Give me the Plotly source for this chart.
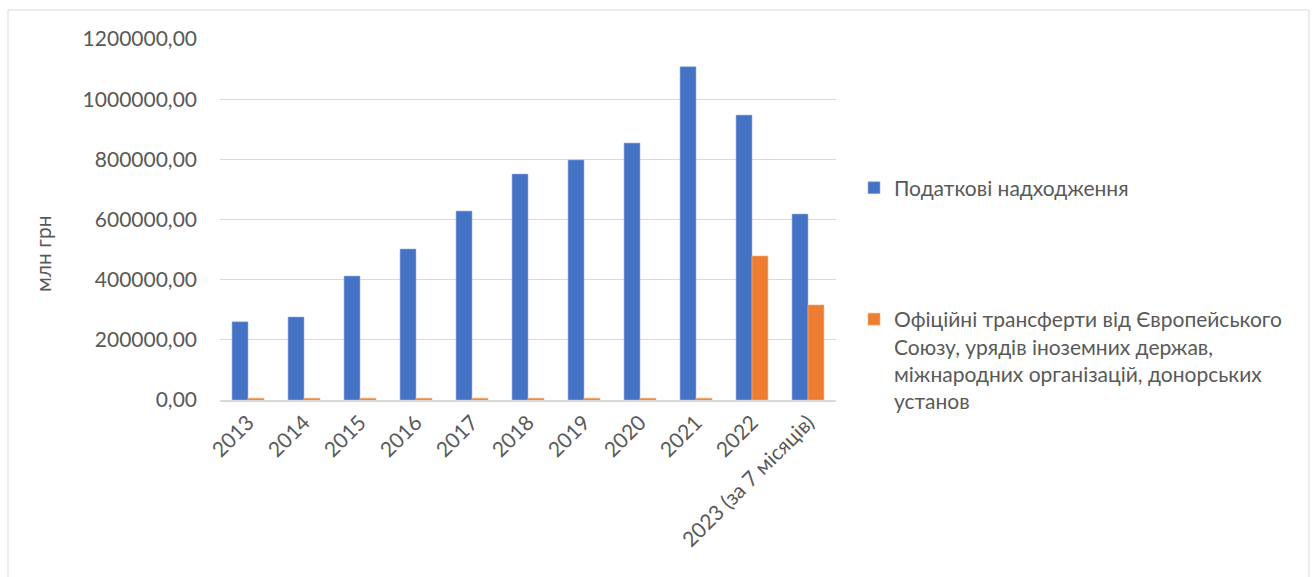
import plotly.graph_objects as go

years = ["2013", "2014", "2015", "2016", "2017", "2018", "2019", "2020", "2021", "2022",
         "2023 (за 7 місяців)"]
tax_revenue = [260000, 276000, 412000, 502000, 628000, 751000, 798000, 854000, 1108000, 947000, 618000]
transfers = [6000, 6000, 6000, 6000, 6000, 6000, 6000, 6000, 6000, 479000, 316000]

name_tax = "Податкові надходження"
name_tr = "Офіційні трансферти від Європейського<br>Союзу, урядів іноземних держав,<br>міжнародних організацій, донорських<br>установ"

W, H = 1315, 577
L, R, T, B = 220, 836, 39, 400
pw, ph = R - L, B - T

def px(x):
    return (x - L) / pw

def py(y):
    return (B - y) / ph

FONT = "Lato, 'Open Sans', sans-serif"
TXT = "#595959"

fig = go.Figure()
fig.add_trace(go.Bar(x=years, y=tax_revenue, name=name_tax, marker_color="#4472C4",
                     marker_line_color="#9db3e0", marker_line_width=0.6,
                     legend="legend", showlegend=True))
fig.add_trace(go.Bar(x=years, y=transfers, name=name_tr, marker_color="#ED7D31",
                     marker_line_color="#f5b48a", marker_line_width=0.6,
                     legend="legend2", showlegend=True))

fig.update_layout(
    width=W, height=H,
    margin=dict(l=L, r=W - R, t=T, b=H - B, autoexpand=False),
    paper_bgcolor="white", plot_bgcolor="white",
    barmode="group", bargap=0.43, bargroupgap=0,
    separators=", ",
    showlegend=True,
    font=dict(family=FONT, color=TXT, size=19),
    legend=dict(x=px(854), y=py(188), xanchor="left", yanchor="middle",
                font=dict(size=21, color=TXT), bgcolor="rgba(0,0,0,0)", visible=True),
    legend2=dict(x=px(854), y=py(299), xanchor="left", yanchor="top", valign="top",
                 font=dict(size=21, color=TXT), bgcolor="rgba(0,0,0,0)", visible=True),
    xaxis=dict(tickangle=-45, showgrid=False, showline=True, linecolor="#d9d9d9", linewidth=2,
               ticks="", tickfont=dict(size=21, color=TXT)),
    yaxis=dict(range=[0, 1200000], dtick=200000, tickformat=".2f", showgrid=True,
               gridcolor="#d9d9d9", gridwidth=1, zeroline=False, showline=False,
               ticks="", ticklabelstandoff=22, tickfont=dict(size=21, color=TXT)),
    shapes=[dict(type="rect", xref="paper", yref="paper", x0=px(8), x1=px(1309),
                 y0=py(600), y1=py(10), line=dict(color="#d9d9d9", width=1), layer="below")],
    annotations=[dict(text="млн грн", xref="paper", yref="paper", x=px(42), y=py(254),
                      showarrow=False, textangle=-90, font=dict(size=21, color=TXT),
                      xanchor="center", yanchor="middle")],
)

fig.write_html("out.html")
